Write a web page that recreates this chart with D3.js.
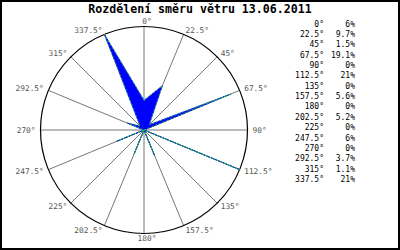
<!DOCTYPE html>
<html>
<head>
<meta charset="utf-8">
<script src="https://cdnjs.cloudflare.com/ajax/libs/d3/7.8.5/d3.min.js"></script>
<style>
  body { margin: 0; background: #fff; }
  svg { display: block; }
</style>
</head>
<body>
<svg id="rose" width="400" height="250"></svg>
<script>
// wind directions (degrees) and share of each direction (%)
var directions = [0, 22.5, 45, 67.5, 90, 112.5, 135, 157.5, 180, 202.5, 225, 247.5, 270, 292.5, 315, 337.5];
var dirLabels = ["0°", "22.5°", "45°", "67.5°", "90°", "112.5°", "135°", "157.5°", "180°", "202.5°", "225°", "247.5°", "270°", "292.5°", "315°", "337.5°"];
var shares = [6, 9.7, 1.5, 19.1, 0, 21, 0, 5.6, 0, 5.2, 0, 6, 0, 3.7, 1.1, 21];
var shareLabels = ["6%", "9.7%", "1.5%", "19.1%", "0%", "21%", "0%", "5.6%", "0%", "5.2%", "0%", "6%", "0%", "3.7%", "1.1%", "21%"];
var chartTitle = "Rozdělení směru větru 13.06.2011";

var svg = d3.select("#rose");
var width = 400, height = 250;
var cx = 144, cy = 130, radius = 103.5;
var mono = "'DejaVu Sans Mono', 'Liberation Mono', monospace";

svg.append("rect")
  .attr("width", width).attr("height", height)
  .attr("fill", "#fff");

// title
svg.append("text")
  .attr("x", 200)
  .attr("y", 13)
  .attr("text-anchor", "middle")
  .style("font-family", mono)
  .style("font-weight", "bold")
  .style("font-size", "11.6px")
  .attr("fill", "#000")
  .text(chartTitle);

var rScale = d3.scaleLinear()
  .domain([0, d3.max(shares)])
  .range([0, radius]);

var angle = d => d * Math.PI / 180;

var roseG = svg.append("g").attr("transform", `translate(${cx},${cy})`);

// spokes
roseG.selectAll("line.spoke")
  .data(directions)
  .enter()
  .append("line")
  .attr("class", "spoke")
  .attr("x1", 0).attr("y1", 0)
  .attr("x2", d => rScale.range()[1] * Math.sin(angle(d)))
  .attr("y2", d => -rScale.range()[1] * Math.cos(angle(d)))
  .attr("stroke", "#777")
  .attr("stroke-width", 1);

// outer circle
roseG.append("circle")
  .attr("r", rScale(d3.max(shares)))
  .attr("fill", "none")
  .attr("stroke", "#000")
  .attr("stroke-width", 1.2);

// rose polygon
var radial = d3.lineRadial()
  .angle(d => angle(d[0]))
  .radius(d => rScale(d[1]))
  .curve(d3.curveLinearClosed);

var pts = directions.map((d, i) => [d, shares[i]]);

roseG.append("path")
  .attr("d", radial(pts))
  .attr("fill", "#0000ff")
  .attr("stroke", "#0000ff")
  .attr("stroke-width", 0.8)
  .attr("stroke-linejoin", "miter");

roseG.append("path")
  .attr("d", radial(pts))
  .attr("fill", "none")
  .attr("stroke", "#22dd22")
  .attr("stroke-width", 0.8)
  .attr("stroke-dasharray", "2,2");

// direction labels round the circle
var labelR = radius + 5;
roseG.selectAll("text.dir")
  .data(directions)
  .enter()
  .append("text")
  .attr("class", "dir")
  .attr("x", d => labelR * Math.sin(angle(d)) + (d === 0 || d === 180 ? 3 : 0))
  .attr("y", d => -labelR * Math.cos(angle(d)))
  .attr("dy", "0.35em")
  .attr("text-anchor", d => {
    var s = Math.sin(angle(d));
    return s > 0.1 ? "start" : (s < -0.1 ? "end" : "middle");
  })
  .style("font-family", mono)
  .style("font-size", "7.8px")
  .attr("fill", "#555")
  .text((d, i) => dirLabels[i]);

// table on the right
var rowY = d3.scaleLinear().domain([0, directions.length - 1]).range([26.5, 182]);
var tableG = svg.append("g")
  .style("font-family", mono)
  .style("font-size", "8px")
  .attr("fill", "#000");

tableG.selectAll("text.ang")
  .data(dirLabels)
  .enter()
  .append("text")
  .attr("class", "ang")
  .attr("x", 324)
  .attr("y", (d, i) => rowY(i))
  .attr("text-anchor", "end")
  .text(d => d);

tableG.selectAll("text.val")
  .data(shareLabels)
  .enter()
  .append("text")
  .attr("class", "val")
  .attr("x", 355)
  .attr("y", (d, i) => rowY(i))
  .attr("text-anchor", "end")
  .text(d => d);

// frame
svg.append("rect")
  .attr("x", 1).attr("y", 1)
  .attr("width", width - 2).attr("height", height - 2)
  .attr("fill", "none")
  .attr("stroke", "#000")
  .attr("stroke-width", 2);
</script>
</body>
</html>
